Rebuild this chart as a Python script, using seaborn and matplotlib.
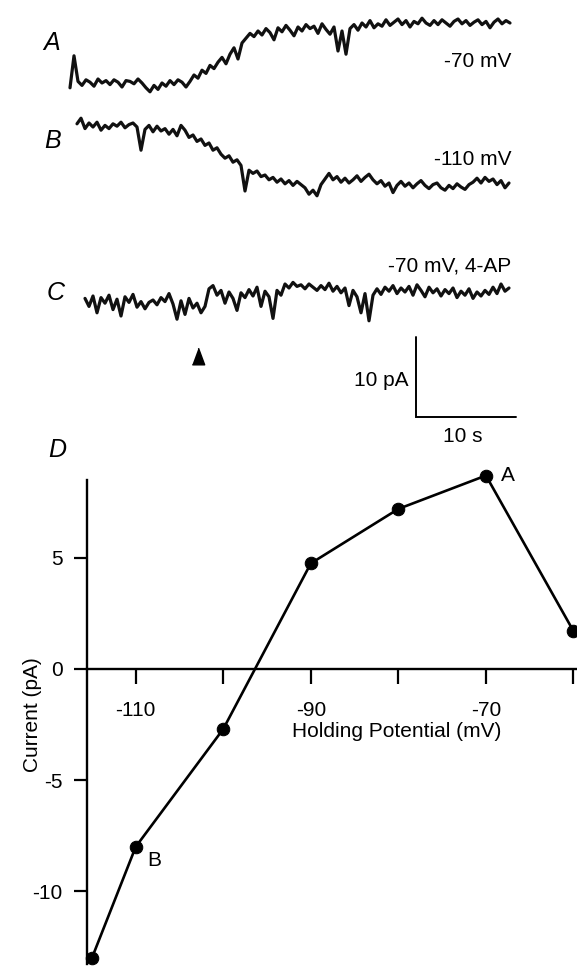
import matplotlib.pyplot as plt
import seaborn as sns
import numpy as np

# I-V relation (panel D)
holding_mv = [-115, -110, -100, -90, -80, -70, -60]
current_pa = [-13.0, -8.0, -2.7, 4.75, 7.2, 8.7, 1.7]
point_labels = {-70: 'A', -110: 'B'}

# example current traces (pA), one sample every 0.4 s
dt = 0.4
trace_a = [-0.6, 3.4, 0.2, -0.3, 0.4, 0.1, -0.4, 0.5, 0.0, 0.3,
           -0.2, 0.4, 0.1, -0.5, 0.3, 0.2, -0.1, 0.5, 0.0, -0.6,
           -1.1, -0.3, -0.8, 0.0, -0.4, 0.3, -0.2, 0.4, 0.1, -0.5,
           0.2, 1.0, 0.6, 1.6, 1.2, 2.2, 1.8, 2.6, 3.2, 2.4,
           3.6, 4.4, 3.0, 5.0, 5.6, 6.2, 5.8, 6.5, 6.0, 6.8,
           6.3, 5.4, 6.9, 6.4, 7.2, 6.6, 5.9, 7.0, 6.5, 7.3,
           6.8, 7.1, 6.2, 7.4, 6.7, 6.1, 7.0, 4.0, 6.5, 3.6,
           6.8, 7.3, 6.6, 7.5, 7.0, 7.8, 6.9, 7.4, 7.1, 7.9,
           7.2, 7.6, 8.0, 7.3, 7.8, 7.0, 7.7, 7.4, 8.1, 7.5,
           7.2, 7.8, 7.3, 7.9, 7.5, 7.1, 7.7, 8.0, 7.4, 7.8,
           7.2, 7.6, 7.9, 7.3, 7.7, 6.9, 7.6, 8.0, 7.4, 7.8, 7.5]
trace_b = [0.4, 1.1, -0.2, 0.5, 0.0, 0.6, -0.4, 0.2, -0.2, 0.4,
           0.1, 0.6, -0.1, 0.3, 0.5, 0.0, -2.9, -0.3, 0.2, -0.6,
           0.1, -0.5, -0.2, -0.9, -0.3, -1.1, 0.2, -0.4, -1.3, -1.0,
           -1.8, -1.5, -2.3, -2.0, -2.9, -2.6, -3.4, -3.9, -3.6, -4.4,
           -4.1, -4.8, -8.0, -5.4, -5.8, -5.5, -6.2, -6.0, -6.6, -6.3,
           -6.9, -6.5, -7.1, -6.7, -7.3, -6.8, -7.2, -7.6, -8.4, -7.9,
           -8.6, -7.2, -6.5, -5.8, -6.6, -6.2, -6.9, -6.4, -7.0, -6.6,
           -6.1, -6.8, -6.3, -5.9, -6.6, -7.1, -6.7, -7.4, -7.0, -8.2,
           -7.3, -6.8, -7.4, -7.0, -7.6, -7.1, -6.7, -7.3, -7.7, -7.2,
           -7.0, -7.6, -7.9, -7.3, -7.7, -7.1, -7.5, -7.8, -7.2, -6.9,
           -6.4, -7.0, -6.3, -6.8, -6.5, -7.2, -6.7, -7.6, -7.0]
trace_c = [0.2, -0.8, 0.5, -1.6, 0.3, -0.4, 0.6, -1.2, 0.1, -2.0,
           0.4, -0.3, 0.7, -0.9, -0.2, -1.1, -0.3, 0.0, -0.6, 0.3,
           -0.2, 0.8, -0.5, -2.4, -0.1, -1.8, 0.2, -1.0, -0.4, -1.6,
           -0.8, 1.4, 1.8, 0.6, 1.2, -0.4, 1.0, 0.2, -1.3, 0.9,
           0.3, 1.3, 0.5, 1.6, -0.8, 1.1, 0.4, -2.3, 1.2, 0.6,
           2.0, 1.5, 2.2, 1.7, 1.9, 1.4, 2.0, 1.6, 1.2, 1.8,
           1.3, 2.1, 1.1, 1.7, 0.9, 1.5, -0.7, 1.2, 0.4, -1.6,
           0.8, -2.6, 0.6, 1.4, 0.7, 1.6, 1.1, 1.8, 0.8, 1.5,
           1.0, 1.7, 0.6, 1.9, 1.2, 0.4, 1.6, 0.9, 1.4, 0.5,
           1.3, 0.8, 1.5, 0.3, 1.1, 0.6, 1.4, 0.2, 1.0, 0.5,
           1.2, 0.7, 1.6, 0.8, 2.0, 1.1, 1.5]
trace_start = {'A': 0.0, 'B': 0.7, 'C': 1.5}
trace_names = {'A': '-70 mV', 'B': '-110 mV', 'C': '-70 mV, 4-AP'}
stim_time = 12.75  # arrowhead under trace C

sns.set_theme(style='white')
plt.rcParams['font.family'] = ['Liberation Sans', 'DejaVu Sans']
plt.rcParams['text.color'] = 'black'

W, H = 577, 966
fig = plt.figure(figsize=(W / 100, H / 100), dpi=100)


def fx(px):
    return px / W


def fy(py):
    return 1 - py / H


# ---- traces A-C ----
ax_tr = fig.add_axes([0, fy(450), 1, 450 / H])
ax_tr.set_xlim(-7, 50.7)
ax_tr.set_ylim(-56.25, 0)
ax_tr.axis('off')

offsets = {'A': -10.375, 'B': -15.875, 'C': -37.5}
for key, tr in zip(['A', 'B', 'C'], [trace_a, trace_b, trace_c]):
    t = trace_start[key] + dt * np.arange(len(tr))
    sns.lineplot(x=t, y=np.array(tr) + offsets[key], ax=ax_tr,
                 color='#111111', lw=2.3, estimator=None)

ax_tr.plot([stim_time], [-355.5 / 8], marker=[(-3.7, -5), (3.7, -5), (0, 5)],
           markersize=12, color='black', ls='none')

# scale bar 10 pA / 10 s
bar_t, bar_y = 34.6, -52.1
ax_tr.plot([bar_t, bar_t, bar_t + 10], [bar_y + 10, bar_y, bar_y],
           color='black', lw=1.4, solid_joinstyle='miter')

txt = dict(fontsize=15, color='black')
fig.text(fx(511), fy(67), trace_names['A'], ha='right', va='baseline', **txt)
fig.text(fx(511), fy(165), trace_names['B'], ha='right', va='baseline', **txt)
fig.text(fx(511), fy(272), trace_names['C'], ha='right', va='baseline', **txt)
fig.text(fx(408), fy(386), '10 pA', ha='right', va='baseline', **txt)
fig.text(fx(463), fy(442), '10 s', ha='center', va='baseline', **txt)

panel = dict(fontsize=18, style='italic', color='black', ha='center', va='baseline')
fig.text(fx(52), fy(50), 'A', **panel)
fig.text(fx(53), fy(148), 'B', **panel)
fig.text(fx(56), fy(300), 'C', **panel)
fig.text(fx(57), fy(457), 'D', **panel)

# ---- panel D: I-V ----
ax = fig.add_axes([fx(86.7), fy(963.5), 1 - fx(86.7), 483.5 / H])
sns.lineplot(x=holding_mv, y=current_pa, ax=ax, color='black', lw=1.9,
             marker='o', markersize=9, markeredgecolor='black',
             clip_on=False, estimator=None)
ax.set_xlim(-115.6, -59.6)
ax.set_ylim(-13.25, 8.5)
ax.spines['top'].set_visible(False)
ax.spines['right'].set_visible(False)
ax.spines['bottom'].set_position(('data', 0))
for s in ['left', 'bottom']:
    ax.spines[s].set_linewidth(1.7)
    ax.spines[s].set_color('black')

ax.set_xticks([-110, -100, -90, -80, -70, -60])
ax.set_xticklabels(['-110', '', '-90', '', '-70', ''])
ax.set_yticks([-10, -5, 0, 5])
ax.set_yticklabels(['-10', '-5', '0', '5'])
ax.tick_params(axis='x', direction='out', length=11, width=1.6, pad=12,
               labelsize=15, colors='black', bottom=True)
ax.tick_params(axis='y', direction='out', length=9.5, width=1.6, pad=8,
               labelsize=15, colors='black', left=True)
ax.set_xlabel('')
ax.set_ylabel('')

for mv, lab in point_labels.items():
    y = current_pa[holding_mv.index(mv)]
    off = (11, 0) if lab == 'A' else (8, -10)
    ax.annotate(lab, (mv, y), xytext=off, textcoords='offset points',
                ha='left', va='center', fontsize=15, color='black',
                annotation_clip=False)

fig.text(fx(33), fy(715), 'Current (pA)', rotation=90, ha='center', va='center', **txt)
fig.text(fx(397), fy(737), 'Holding Potential (mV)', ha='center', va='baseline', **txt)

fig.savefig('out.png', dpi=100)
